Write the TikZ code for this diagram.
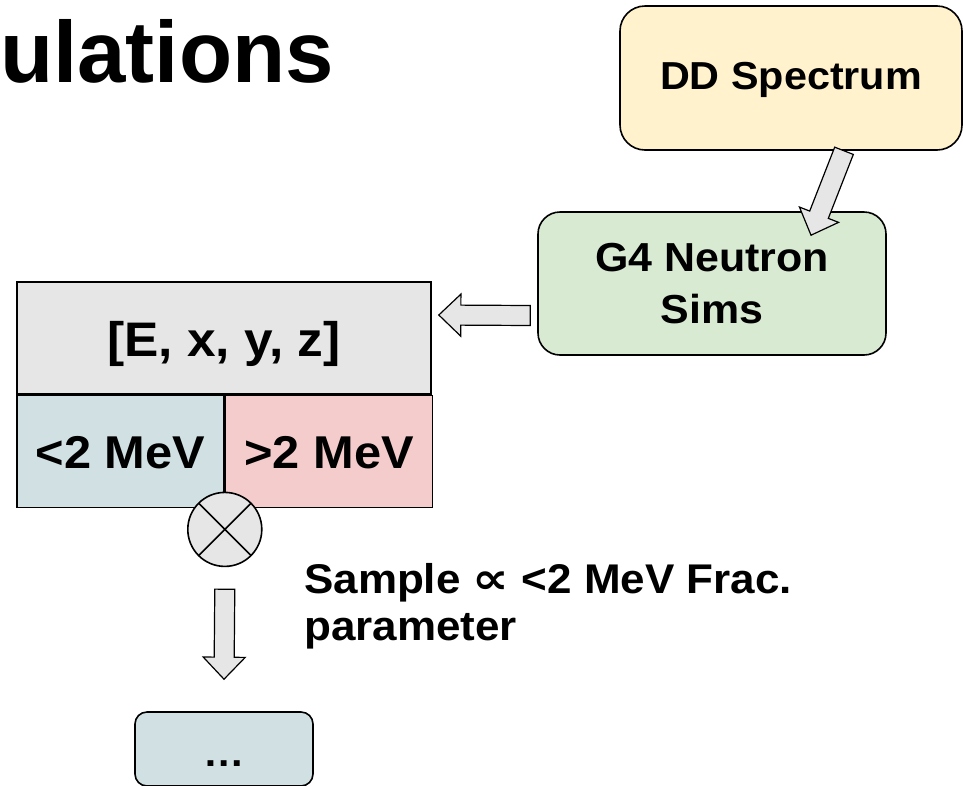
\documentclass[tikz,border=0pt]{standalone}
\usepackage{fontspec}
\setmainfont[FakeStretch=1.06]{Liberation Sans}
\newfontfamily\titlefont{Liberation Sans}
\newfontfamily\symfont[FakeStretch=1.2]{DejaVu Sans}
\usetikzlibrary{positioning,calc}
\definecolor{ddyellow}{HTML}{FFF2CC}
\definecolor{g4green}{HTML}{D9EAD3}
\definecolor{cellgray}{HTML}{E6E6E6}
\definecolor{lowblue}{HTML}{D0E0E3}
\definecolor{highpink}{HTML}{F4CCCC}
\tikzset{
    box/.style={draw, line width=1.6pt, rounded corners=22pt, align=center,
        font=\bfseries\fontsize{39}{50}\selectfont},
    cell/.style={draw, line width=1.6pt, inner sep=0pt, text depth=0pt},
    blockarrow/.style={draw, fill=cellgray, line width=1.2pt, line join=miter},
    times/.style={circle, draw, fill=cellgray, line width=1.6pt, minimum size=74pt,
        path picture={
        \draw[line width=1.6pt]
            (path picture bounding box.south east) -- (path picture bounding box.north west)
            (path picture bounding box.south west) -- (path picture bounding box.north east);
        }
    }
}
\newcommand{\blockarrow}[2]{%
    \coordinate (headbase) at ($(#2)!22pt!(#1)$);
    \draw[blockarrow] ($(#1)!10pt!90:(#2)$) -- ($(headbase)!10pt!90:(#2)$)
        -- ($(headbase)!21pt!90:(#2)$) -- (#2) -- ($(headbase)!21pt!-90:(#2)$)
        -- ($(headbase)!10pt!-90:(#2)$) -- ($(#1)!10pt!-90:(#2)$) -- cycle;
}

\begin{document}
\begin{tikzpicture}[x=1pt, y=-1pt]
    \useasboundingbox (0,0) rectangle (963,785);
    \node[anchor=base west, inner sep=0pt, font=\titlefont\bfseries\fontsize{87}{100}\selectfont] (title) at (0,82) {ulations};
    \node[box, fill=ddyellow, rounded corners=25pt, minimum width=342pt, minimum height=144pt,
        text height=22.6pt, text depth=0pt] (dd) at (791,78) {DD Spectrum};
    \node[box, fill=g4green, minimum width=348pt, minimum height=143pt, text height=79.6pt, text depth=0pt,
        font=\bfseries\fontsize{40.5}{51.6}\selectfont] (g4) at (712,283.5) {G4 Neutron\\Sims};
    \node[cell, fill=cellgray, minimum width=414pt, minimum height=112pt, text height=37.4pt,
        font=\bfseries\fontsize{48.5}{56}\selectfont] (top) at (224,338) {[E, x, y, z]};
    \node[cell, fill=lowblue, anchor=north west, minimum width=207pt, minimum height=112pt, text height=34.6pt,
        font=\bfseries\fontsize{46}{54}\selectfont] (low) at (top.south west) {<2 MeV};
    \node[cell, fill=highpink, anchor=north west, minimum width=207pt, minimum height=112pt, text height=34.6pt,
        font=\bfseries\fontsize{46}{54}\selectfont] (high) at (low.north east) {>2 MeV};
    \node[times] (cross) at ($(low.south east)+(0,21)$) {};
    \node[box, fill=lowblue, rounded corners=12pt, minimum width=178pt, minimum height=74pt,
        text height=34pt, text depth=0pt] (dots) at (224,749) {…};
    \node[anchor=base west, inner sep=0pt, align=left,
        font=\bfseries\fontsize{41.5}{47}\selectfont] (sample) at (304,640) {Sample {\symfont\fontsize{43}{47}\selectfont ∝} <2 MeV Frac.\\parameter};
    \coordinate (ddtail) at ($(dd.south)+(53,0)$);
    \coordinate (g4tip) at ($(g4.north)+(99,24)$);
    \coordinate (g4tail) at ($(g4.west)+(-7,32)$);
    \coordinate (toptip) at ($(top.east)+(7,-23)$);
    \coordinate (crosstail) at ($(cross.south)+(0,22)$);
    \coordinate (dotstip) at ($(dots.north)+(0,-32)$);
    \blockarrow{ddtail}{g4tip}
    \blockarrow{g4tail}{toptip}
    \blockarrow{crosstail}{dotstip}
\end{tikzpicture}
\end{document}
